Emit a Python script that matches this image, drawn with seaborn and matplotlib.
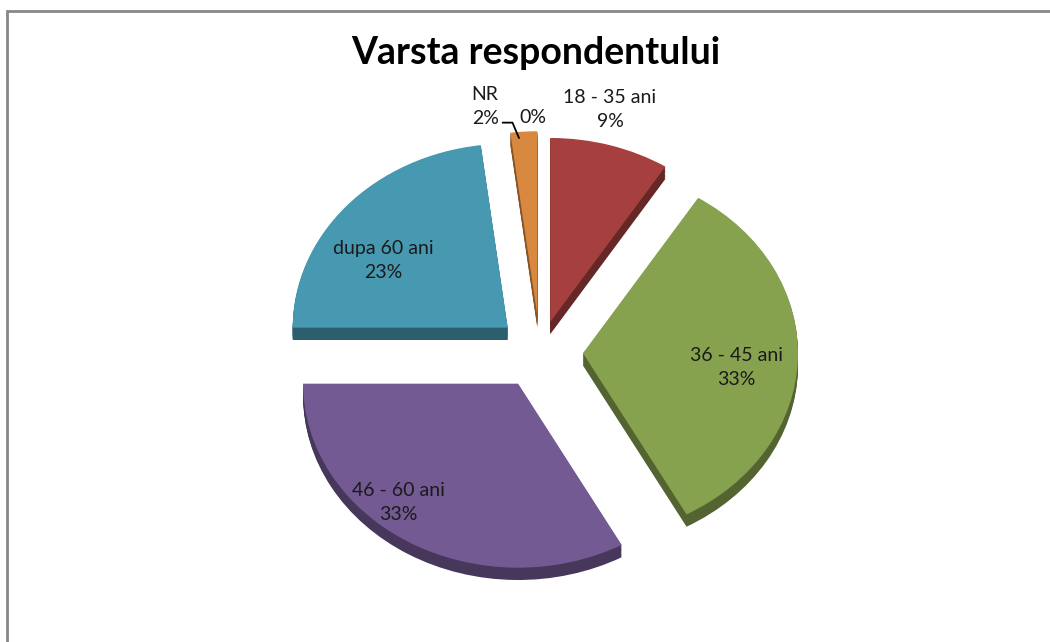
import numpy as np
import matplotlib
matplotlib.use('Agg')
import matplotlib.pyplot as plt
import matplotlib.colors as mcolors
from matplotlib.patches import Rectangle
import seaborn as sns

# data
categories = ['18 - 35 ani', '36 - 45 ani', '46 - 60 ani', 'dupa 60 ani', 'NR', '']
values = [9, 33, 33, 23, 2, 0]
colors = ['#A5403E', '#87A24F', '#735A92', '#4799B1', '#D9883F', '#7F7F7F']

explode = [0.17, 0.2, 0.2, 0.2, 0.2, 0.2]
label_r = [1.355, 0.916, 1.053, 0.885, 1.361, 1.28]
label_nudge = [2.3, -3.6, -8.2, 7.0, 7.2, 4.2]

sns.set_style('white')
plt.rcParams['font.family'] = ['Lato', 'DejaVu Sans']

fig = plt.figure(figsize=(10.5, 6.42), dpi=100)
ax = fig.add_axes([0, 0, 1, 1])

# fake 3D side: stack of darker copies shifted down
dark = [tuple(np.array(mcolors.to_rgb(c)) * 0.62) for c in colors]
for k in np.linspace(0.067, 0.005, 10):
    ax.pie(values, colors=dark, explode=explode, startangle=90, counterclock=False,
           center=(0, -k), wedgeprops=dict(linewidth=0))

wedges, _ = ax.pie(values, colors=colors, explode=explode, startangle=90,
                   counterclock=False, wedgeprops=dict(linewidth=0))

for w, cat, v, r, d in zip(wedges, categories, values, label_r, label_nudge):
    mid = np.deg2rad((w.theta1 + w.theta2) / 2 + d)
    pos = (r * np.cos(mid), r * np.sin(mid))
    if cat:
        ax.text(*pos, f'{cat}\n{v}%', ha='center', va='center', fontsize=14,
                color='#1a1a1a', linespacing=1.5)
    else:
        # zero slice: label plus a leader line bending down to the pie top
        ax.text(*pos, f'{v}%', ha='left', va='center', fontsize=14, color='#1a1a1a')
        tip_a = np.deg2rad(w.theta1 + 4.8)
        tip = (1.167 * np.cos(tip_a), 1.167 * np.sin(tip_a))
        start = (pos[0] - 0.08, pos[1] - 0.03)
        ax.annotate('', xy=tip, xytext=start, zorder=5,
                    arrowprops=dict(arrowstyle='-', color='black', lw=1.3,
                                    shrinkA=0, shrinkB=0,
                                    connectionstyle='angle,angleA=0,angleB=113,rad=0'))

ax.set_aspect('auto')
ax.set_xlim(-540 / 215, 510 / 215)
ax.set_ylim(-290 / 184, 352 / 184)
ax.axis('off')

fig.text(0.51, 0.918, 'Varsta respondentului', ha='center', va='center',
         fontsize=27, fontweight='bold', color='black')

fig.patches.append(Rectangle((7 / 1050, -0.1), 1.2, 1.0836, transform=fig.transFigure,
                             fill=False, edgecolor='#878787', lw=2))

fig.savefig('out.png', dpi=100)
